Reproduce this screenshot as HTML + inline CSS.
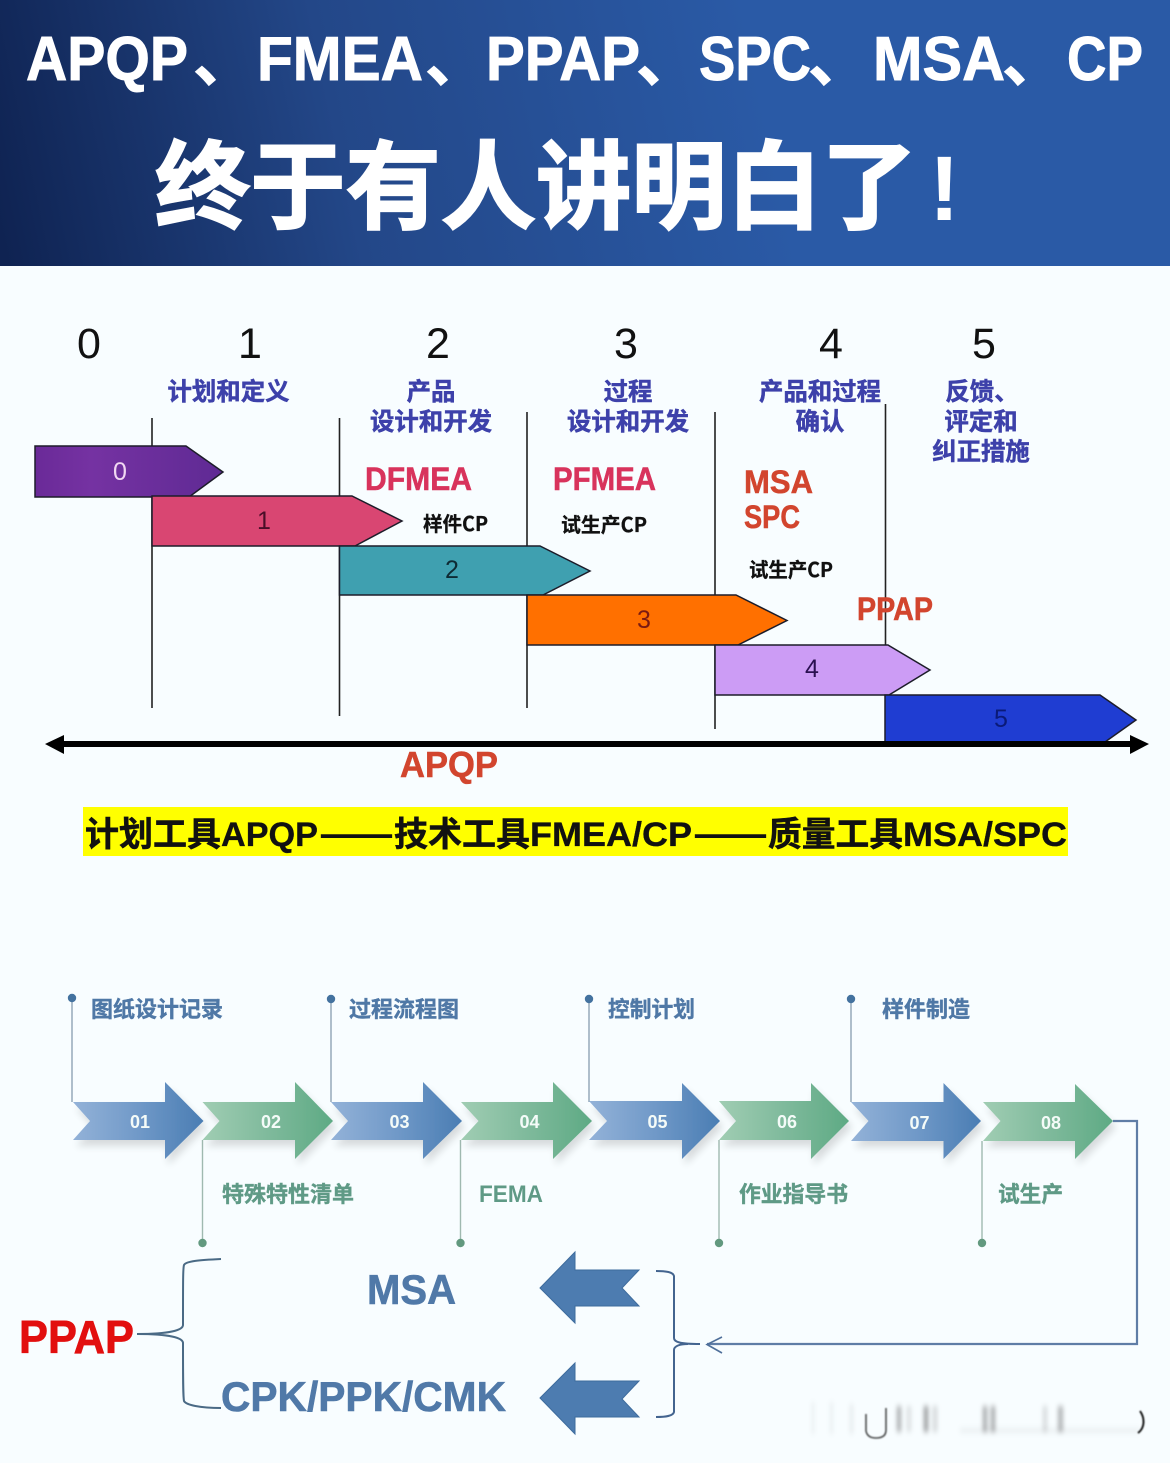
<!DOCTYPE html>
<html lang="zh-CN"><head><meta charset="utf-8"><title>APQP FMEA PPAP SPC MSA CP</title>
<style>
html,body{margin:0;padding:0;background:#f8fdff}
svg{display:block}
text{font-family:"Liberation Sans","Noto Sans CJK SC",sans-serif;font-weight:700}
.cj{font-family:"Noto Sans CJK SC","Liberation Sans",sans-serif}
.h{fill:#fff;font-size:62px;stroke:#fff;stroke-width:.9px}
.b{fill:#3d41aa;font-size:24.4px;text-anchor:middle;font-family:"Noto Sans CJK SC",sans-serif;stroke:#3d41aa;stroke-width:.5px}
.n{fill:#111;font-size:43px;font-weight:400;text-anchor:middle}
.d{font-size:25px;font-weight:400;text-anchor:middle}
.r{fill:#d8335c;font-size:32px;stroke:#d8335c;stroke-width:.5px}
.o{fill:#d2452e;font-size:32px;stroke:#d2452e;stroke-width:.5px}
.k{fill:#111;font-size:20px;stroke:#111;stroke-width:.3px}
.y{fill:#111;font-size:34px;font-family:"Noto Sans CJK SC",sans-serif;stroke:#111;stroke-width:.5px}
.yl{fill:#111;font-size:34px;stroke:#111;stroke-width:.3px}
.lb{fill:#4f78a6;font-size:22px;font-family:"Noto Sans CJK SC",sans-serif;stroke:#4f78a6;stroke-width:.4px}
.lg{fill:#5f9a86;font-size:22px;font-family:"Noto Sans CJK SC",sans-serif;stroke:#5f9a86;stroke-width:.4px}
.w{fill:#f4fbf8;font-size:18px;text-anchor:middle}
.big{fill:#5079a8;font-size:42px;stroke:#5079a8;stroke-width:.6px}
</style></head><body>
<svg xmlns="http://www.w3.org/2000/svg" width="1170" height="1463" viewBox="0 0 1170 1463">
<defs>
<linearGradient id="hd" gradientUnits="userSpaceOnUse" x1="0" y1="230" x2="760" y2="70"><stop offset="0" stop-color="#0f2352"/><stop offset=".45" stop-color="#234788"/><stop offset="1" stop-color="#2a5aa6"/></linearGradient>
<linearGradient id="ab" x1="0" y1="0" x2="1" y2="0"><stop offset="0" stop-color="#93b2d8"/><stop offset=".5" stop-color="#7099c8"/><stop offset="1" stop-color="#4a7db3"/></linearGradient>
<linearGradient id="ag" x1="0" y1="0" x2="1" y2="0"><stop offset="0" stop-color="#a0cdb3"/><stop offset=".5" stop-color="#7fba9c"/><stop offset="1" stop-color="#5eaa84"/></linearGradient>
<linearGradient id="pu" x1="0" y1="0" x2="1" y2="0"><stop offset="0" stop-color="#6a2a98"/><stop offset=".3" stop-color="#7532a2"/><stop offset="1" stop-color="#5f2a94"/></linearGradient>
<filter id="sh" x="-20%" y="-20%" width="150%" height="150%"><feGaussianBlur in="SourceAlpha" stdDeviation="4"/><feOffset dx="3" dy="6"/><feComponentTransfer><feFuncA type="linear" slope=".14"/></feComponentTransfer><feMerge><feMergeNode/><feMergeNode in="SourceGraphic"/></feMerge></filter>
<filter id="bl" x="-20%" y="-30%" width="140%" height="160%"><feGaussianBlur stdDeviation="2 3"/></filter>
<filter id="bl2" x="-50%" y="-50%" width="200%" height="200%"><feGaussianBlur stdDeviation="0.8"/></filter>
</defs>

<rect width="1170" height="1463" fill="#f8fdff"/>
<rect width="1170" height="266" fill="url(#hd)"/>

<!-- Header -->
<text class="h" x="26" y="80" textLength="162" lengthAdjust="spacingAndGlyphs">APQP</text>
<text class="h cj" x="193" y="81">、</text>
<text class="h" x="257" y="80" textLength="166" lengthAdjust="spacingAndGlyphs">FMEA</text>
<text class="h cj" x="425" y="81">、</text>
<text class="h" x="486" y="80" textLength="154" lengthAdjust="spacingAndGlyphs">PPAP</text>
<text class="h cj" x="636" y="81">、</text>
<text class="h" x="699" y="80" textLength="112" lengthAdjust="spacingAndGlyphs">SPC</text>
<text class="h cj" x="808" y="81">、</text>
<text class="h" x="873" y="80" textLength="132" lengthAdjust="spacingAndGlyphs">MSA</text>
<text class="h cj" x="1002" y="81">、</text>
<text class="h" x="1067" y="80" textLength="76" lengthAdjust="spacingAndGlyphs">CP</text>
<text class="cj" x="155" y="221" fill="#fff" stroke="#fff" stroke-width="2" font-size="96" textLength="762" lengthAdjust="spacingAndGlyphs">终于有人讲明白了</text>
<text x="929" y="220" fill="#fff" font-size="92">!</text>

<!-- Stage numbers -->
<text class="n" x="89" y="358">0</text>
<text class="n" x="250" y="358">1</text>
<text class="n" x="438" y="358">2</text>
<text class="n" x="626" y="358">3</text>
<text class="n" x="831" y="358">4</text>
<text class="n" x="984" y="358">5</text>

<!-- Stage titles -->
<text class="b" x="228.500" y="400">计划和定义</text>
<text class="b" x="431" y="400">产品</text>
<text class="b" x="431" y="430">设计和开发</text>
<text class="b" x="628" y="400">过程</text>
<text class="b" x="628" y="430">设计和开发</text>
<text class="b" x="820" y="400">产品和过程</text>
<text class="b" x="820" y="430">确认</text>
<text class="b" x="982" y="400">反馈、</text>
<text class="b" x="981" y="430">评定和</text>
<text class="b" x="981" y="460">纠正措施</text>

<!-- Vertical lines -->
<g stroke="#222" stroke-width="1.6">
<path d="M152 418V708M339.500 418V716M527 412V708M715 412V729M885.500 404V695" fill="none"/>
</g>

<!-- Stage arrows -->
<g stroke="#1d1d2a" stroke-width="1.5">
<polygon points="35,446 186,446 223,472 189,497 35,497" fill="url(#pu)"/>
<polygon points="152,496 352,496 402,521 355,546 152,546" fill="#d94672"/>
<polygon points="339.500,546 540,546 590,571 543,595 339.500,595" fill="#3fa0b0"/>
<polygon points="527,595 736,595 787,620.500 738,645 527,645" fill="#ff7000"/>
<polygon points="715,645 888,645 930,670 889,695 715,695" fill="#cc9cf5"/>
<polygon points="885,695 1100,695 1136,720 1105,742 885,742" fill="#1f3dd2"/>
</g>
<text class="d" x="120" y="480" fill="#f1d8f2">0</text>
<text class="d" x="264" y="529" fill="#4a0e28">1</text>
<text class="d" x="452" y="578" fill="#0e2a33">2</text>
<text class="d" x="644" y="628" fill="#7a1a12">3</text>
<text class="d" x="812" y="677" fill="#2a1050">4</text>
<text class="d" x="1001" y="727" fill="#0a1a78">5</text>

<!-- Axis -->
<rect x="60" y="741" width="1074" height="6" fill="#000"/>
<polygon points="45,744 64,735 64,754" fill="#000"/>
<polygon points="1149,744 1130,735 1130,754" fill="#000"/>

<!-- Tool labels -->
<text class="r" x="365" y="490" textLength="107" lengthAdjust="spacingAndGlyphs">DFMEA</text>
<text class="r" x="553" y="490" textLength="103" lengthAdjust="spacingAndGlyphs">PFMEA</text>
<text class="o" x="744" y="493" textLength="69" lengthAdjust="spacingAndGlyphs">MSA</text>
<text class="o" x="744" y="528" textLength="56" lengthAdjust="spacingAndGlyphs">SPC</text>
<text class="o" x="857" y="620" textLength="76" lengthAdjust="spacingAndGlyphs">PPAP</text>
<text class="o" x="400" y="777" style="font-size:36px" textLength="98" lengthAdjust="spacingAndGlyphs">APQP</text>
<text class="k cj" x="423" y="531" textLength="65" lengthAdjust="spacingAndGlyphs">样件CP</text>
<text class="k cj" x="561" y="532" textLength="86" lengthAdjust="spacingAndGlyphs">试生产CP</text>
<text class="k cj" x="749" y="577" textLength="84" lengthAdjust="spacingAndGlyphs">试生产CP</text>

<!-- Yellow banner -->
<rect x="83" y="807" width="985" height="49" fill="#ffff00"/>
<text class="y" x="85" y="846" textLength="136" lengthAdjust="spacingAndGlyphs">计划工具</text>
<text class="yl" x="221" y="846" textLength="97" lengthAdjust="spacingAndGlyphs">APQP</text>
<text class="y" x="319" y="846" textLength="75" lengthAdjust="spacingAndGlyphs">——</text>
<text class="y" x="394" y="846" textLength="136" lengthAdjust="spacingAndGlyphs">技术工具</text>
<text class="yl" x="530" y="846" textLength="162" lengthAdjust="spacingAndGlyphs">FMEA/CP</text>
<text class="y" x="693" y="846" textLength="75" lengthAdjust="spacingAndGlyphs">——</text>
<text class="y" x="768" y="846" textLength="135" lengthAdjust="spacingAndGlyphs">质量工具</text>
<text class="yl" x="903" y="846" textLength="164" lengthAdjust="spacingAndGlyphs">MSA/SPC</text>

<!-- Lead lines -->
<g fill="none" stroke="#8fa3b5" stroke-width="1.4">
<path d="M72 999V1102M331 999V1102M589 999V1102M851 999V1102"/>
</g>
<g fill="none" stroke="#9fb9b0" stroke-width="1.4">
<path d="M202.500 1140V1243M460.500 1140V1243M719 1140V1243M982 1141V1243"/>
</g>
<g fill="#43729f"><circle cx="72" cy="998" r="4.200"/><circle cx="331" cy="999" r="4.200"/><circle cx="589" cy="999" r="4.200"/><circle cx="851" cy="999" r="4.200"/></g>
<g fill="#62997f"><circle cx="202.500" cy="1243" r="4.200"/><circle cx="460.500" cy="1243" r="4.200"/><circle cx="719" cy="1243" r="4.200"/><circle cx="982" cy="1243" r="4.200"/></g>

<!-- Process arrows -->
<g filter="url(#sh)">
<polygon points="73,1102 165,1102 165,1082 203.500,1121 165,1159 165,1140 73,1140 90,1121" fill="url(#ab)"/>
<polygon points="331,1102 423,1102 423,1082 462,1121 423,1159 423,1140 331,1140 348,1121" fill="url(#ab)"/>
<polygon points="589,1101 682,1101 682,1083 720,1121 682,1159 682,1140 589,1140 607,1121" fill="url(#ab)"/>
<polygon points="851,1102 943.500,1102 943.500,1083 981,1121 943.500,1159 943.500,1141 851,1141 868.500,1121" fill="url(#ab)"/>
<polygon points="202.500,1102 295,1102 295,1082 333,1121 295,1159 295,1140 202.500,1140 219.500,1121" fill="url(#ag)"/>
<polygon points="461,1102 553,1102 553,1082 592,1121 553,1159 553,1140 461,1140 478.500,1121" fill="url(#ag)"/>
<polygon points="719,1101 811,1101 811,1083 849,1121 811,1159 811,1140 719,1140 736,1121" fill="url(#ag)"/>
<polygon points="983,1102 1075,1102 1075,1084 1113,1121 1075,1159 1075,1141 983,1141 1000.500,1121" fill="url(#ag)"/>
</g>
<text class="w" x="140" y="1128">01</text>
<text class="w" x="271" y="1128">02</text>
<text class="w" x="399.500" y="1128">03</text>
<text class="w" x="529.500" y="1128">04</text>
<text class="w" x="657.500" y="1128">05</text>
<text class="w" x="787" y="1128">06</text>
<text class="w" x="919.500" y="1129">07</text>
<text class="w" x="1051" y="1129">08</text>

<!-- Process labels -->
<text class="lb" x="91" y="1017" textLength="132" lengthAdjust="spacingAndGlyphs">图纸设计记录</text>
<text class="lb" x="349" y="1017" textLength="110" lengthAdjust="spacingAndGlyphs">过程流程图</text>
<text class="lb" x="608" y="1017" textLength="87" lengthAdjust="spacingAndGlyphs">控制计划</text>
<text class="lb" x="882" y="1017" textLength="88" lengthAdjust="spacingAndGlyphs">样件制造</text>
<text class="lg" x="222" y="1202" textLength="132" lengthAdjust="spacingAndGlyphs">特殊特性清单</text>
<text x="479" y="1202" fill="#5f9a86" font-size="24" textLength="64" lengthAdjust="spacingAndGlyphs">FEMA</text>
<text class="lg" x="739" y="1202" textLength="109" lengthAdjust="spacingAndGlyphs">作业指导书</text>
<text class="lg" x="998" y="1202" textLength="65" lengthAdjust="spacingAndGlyphs">试生产</text>

<!-- Return connector -->
<path d="M1113 1121H1137V1344H707" fill="none" stroke="#5f7da6" stroke-width="2.200"/>
<path d="M722 1337L707 1344.500L722 1353" fill="none" stroke="#4f6f9a" stroke-width="1.6"/>

<!-- Right brace -->
<path d="M656 1271C666 1271 673 1272 674 1276V1338C674 1342 680 1344 700 1344M656 1417C666 1417 673 1416 674 1412V1350C674 1346 680 1344 688 1344" fill="none" stroke="#43648f" stroke-width="2"/>

<!-- Left arrows -->
<g fill="#4d7cb0" stroke="#3d6b9c" stroke-width="1">
<polygon points="540,1288 575,1252 575,1270 639,1270 622,1288 639,1306 575,1306 575,1323"/>
<polygon points="540,1398 575,1363 575,1381 639,1381 622,1399 639,1417 575,1417 575,1434"/>
</g>

<!-- PPAP brace -->
<path d="M221 1259C200 1260 186 1261 184 1265C183 1268 183 1280 183 1325C183 1330 170 1334 137 1334C170 1334 183 1338 183 1343C183 1380 183 1396 184 1401C186 1405 200 1408 221 1408" fill="none" stroke="#4a6a85" stroke-width="2"/>
<text x="19" y="1353" fill="#e20f0f" stroke="#e20f0f" stroke-width=".7" font-size="46" textLength="115" lengthAdjust="spacingAndGlyphs">PPAP</text>
<text class="big" x="367" y="1304" textLength="89" lengthAdjust="spacingAndGlyphs">MSA</text>
<text class="big" x="221" y="1411" textLength="285" lengthAdjust="spacingAndGlyphs">CPK/PPK/CMK</text>

<!-- Blurred remnant at the bottom -->
<g filter="url(#bl)" fill="#000">
<rect x="812" y="1402" width="2" height="32" opacity=".08"/>
<rect x="830" y="1402" width="3" height="32" opacity=".06"/>
<rect x="850" y="1404" width="3" height="30" opacity=".08"/>
<rect x="897" y="1406" width="4" height="26" opacity=".32"/>
<rect x="907" y="1406" width="4" height="26" opacity=".12"/>
<rect x="924" y="1406" width="4" height="26" opacity=".4"/>
<rect x="933" y="1406" width="4" height="26" opacity=".16"/>
<rect x="983" y="1406" width="4" height="26" opacity=".34"/>
<rect x="991" y="1406" width="4" height="26" opacity=".34"/>
<rect x="1043" y="1406" width="4" height="26" opacity=".14"/>
<rect x="1058" y="1406" width="5" height="26" opacity=".28"/>
<rect x="960" y="1428" width="180" height="5" opacity=".05"/>
</g>
<g filter="url(#bl2)" fill="none" stroke="#000">
<path d="M866 1414V1431C867 1436 871 1438 876 1438C882 1438 886 1436 886 1430V1408" stroke-width="1.600" opacity=".7"/>
<path d="M1140 1411C1145 1418 1145 1428 1138 1433" stroke-width="1.800"/>
</g>
</svg>
</body></html>
